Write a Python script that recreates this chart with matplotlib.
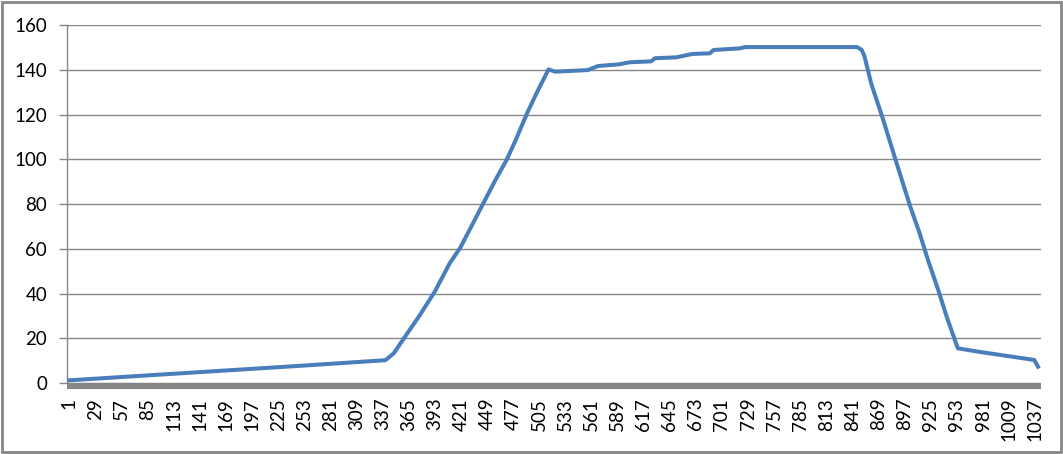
import matplotlib.pyplot as plt
from matplotlib.patches import Rectangle

# key points (category number, value)
cats = [1, 249, 340, 349, 361, 377, 393, 409, 420, 434, 445, 458, 470, 479,
        492, 502, 515, 522, 538, 557, 568, 591, 602, 625, 629, 652, 669, 688,
        692, 720, 726, 846, 851, 854, 861, 874, 885, 894, 903, 913, 922, 933,
        942, 954, 976, 1036, 1040]
values = [1.2, 7.7, 10.2, 13.3, 20.7, 30.4, 40.9, 53.6, 60.3, 71.5, 80.4,
          90.8, 99.8, 108.0, 120.7, 129.6, 140.3, 139.3, 139.6, 140.0, 141.8,
          142.6, 143.5, 143.9, 145.3, 145.7, 147.2, 147.5, 149.0, 149.7, 150.3,
          150.3, 149.0, 146.0, 134.1, 117.7, 102.8, 90.8, 78.9, 67.0, 55.0,
          41.6, 29.7, 15.5, 14.0, 10.3, 7.3]

tick_labels = ['1', '29', '57', '85', '113', '141', '169', '197', '225',
               '253', '281', '309', '337', '365', '393', '421', '449', '477',
               '505', '533', '561', '589', '617', '645', '673', '701', '729',
               '757', '785', '813', '841', '869', '897', '925', '953', '981',
               '1009', '1037']
y_ticks = [0, 20, 40, 60, 80, 100, 120, 140, 160]

grey = '#868686'


def main():
    plt.rcParams['font.family'] = ['Lato', 'DejaVu Sans']

    fig = plt.figure(figsize=(10.63, 4.54), dpi=100)
    ax = fig.add_axes([0.0627, 0.1564, 0.9166, 0.7877])

    ax.plot(cats, values, color='#4a7ebb', linewidth=2.9,
            solid_joinstyle='round', zorder=3)

    ax.set_xlim(-1.9, 1043.2)
    ax.set_ylim(0, 160)
    ax.set_yticks(y_ticks)
    ax.set_xticks([int(t) for t in tick_labels])
    ax.set_xticklabels(tick_labels)

    ax.yaxis.grid(True, color=grey, linewidth=1)
    ax.set_axisbelow(True)

    for side in ['top', 'right']:
        ax.spines[side].set_visible(False)
    ax.spines['left'].set_color(grey)
    ax.spines['left'].set_linewidth(1)
    ax.spines['bottom'].set_color(grey)
    ax.spines['bottom'].set_linewidth(4.4)
    ax.spines['bottom'].set_position(('outward', 2.2))
    ax.spines['bottom'].set_capstyle('butt')

    ax.tick_params(axis='y', length=5.5, width=1, color=grey, pad=8.5,
                   labelsize=13.5)
    ax.tick_params(axis='x', length=0, pad=8.5, labelsize=13.5,
                   labelrotation=90)

    fig.patches.append(Rectangle((0.002, 0.004), 0.996, 0.992,
                                 transform=fig.transFigure, fill=False,
                                 edgecolor=grey, linewidth=2))

    plt.savefig('out.png')


if __name__ == '__main__':
    main()
